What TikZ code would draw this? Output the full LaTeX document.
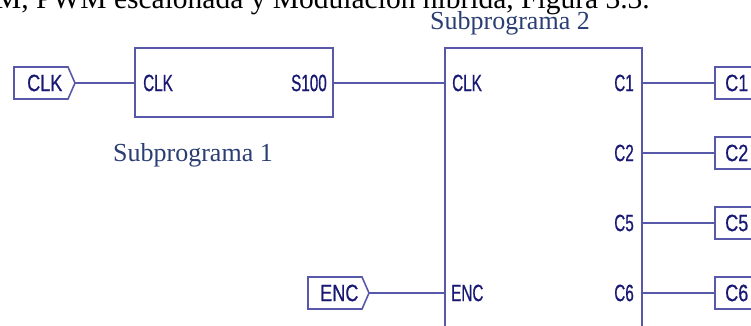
\documentclass[tikz,border=0pt]{standalone}
\usepackage{fontspec}
\setmainfont{Liberation Serif}
\newfontfamily\pinfont[FakeStretch=0.65,FakeBold=0.6]{Liberation Sans}
\newfontfamily\portfont[FakeStretch=0.77,FakeBold=0.6]{Liberation Sans}
\definecolor{wirec}{RGB}{88,88,170}
\definecolor{pinc}{RGB}{25,25,115}
\definecolor{capc}{RGB}{42,62,115}
\begin{document}
\begin{tikzpicture}[x=1pt,y=-1pt,
  wire/.style={draw=wirec, line width=1.8pt},
  block/.style={draw=wirec, line width=1.8pt, rectangle, inner sep=0pt, outer sep=0pt},
  portshape/.style={draw=wirec, line width=1.6pt, line join=miter},
  pin/.style={text=pinc, font=\pinfont\fontsize{23.5}{23.5}\selectfont, inner sep=0pt},
  portlbl/.style={text=pinc, font=\portfont\fontsize{23.5}{23.5}\selectfont, inner sep=0pt},
  caption/.style={text=capc, font=\fontsize{26}{26}\selectfont, inner sep=0pt},
]
\useasboundingbox (0,0) rectangle (751,326);
\clip (0,0) rectangle (751,326);

% cut-off body text line
\node[anchor=base east, font=\fontsize{29.5}{29.5}\selectfont, inner sep=0pt] (topline) at (650,8.5)
  {M, PWM escalonada y Modulación híbrida, Figura 3.3.};

% blocks
\node[block, minimum width=198pt, minimum height=69pt] (b1) at (234,82.5) {};
\node[block, minimum width=197pt, minimum height=352pt] (b2) at (543.5,224) {};

% captions
\node[caption, anchor=base] (cap1) at (193,161) {Subprograma 1};
\node[caption, anchor=base] (cap2) at (510,29.5) {Subprograma 2};

% pin labels block 1
\node[pin, anchor=west] (p1clk) at (143,83) {CLK};
\node[pin, anchor=east] (p1s) at (327,83) {S100};

% pin labels block 2
\node[pin, anchor=west] (p2clk) at (452,83) {CLK};
\node[pin, anchor=west] (p2enc) at (451,293) {ENC};
\node[pin, anchor=east] (p2c1) at (634,83) {C1};
\node[pin, anchor=east] (p2c2) at (634,153) {C2};
\node[pin, anchor=east] (p2c5) at (634,223) {C5};
\node[pin, anchor=east] (p2c6) at (634,293) {C6};

% input ports
\draw[portshape] (14,67) -- (68,67) -- (75,83) -- (68,99) -- (14,99) -- cycle;
\coordinate (clkin) at (75,83);
\node[portlbl, anchor=west] (clkt) at (27,83) {CLK};

\draw[portshape] (308,277) -- (362,277) -- (369,293) -- (362,309) -- (308,309) -- cycle;
\coordinate (encin) at (369,293);
\node[portlbl, anchor=west] (enct) at (320,293) {ENC};

% output ports
\foreach \y/\t in {83/C1,153/C2,223/C5,293/C6}{
  \draw[portshape] (715,\y-16) -- (775,\y-16) -- (782,\y) -- (775,\y+16) -- (715,\y+16) -- cycle;
  \coordinate (out\t) at (715,\y);
  \node[portlbl, anchor=west] (lbl\t) at (725,\y) {\t};
}

% block 2 pin coordinates
\coordinate (b2clk) at (b2.west |- clkin);
\coordinate (b2enc) at (b2.west |- encin);

% wires
\draw[wire] (clkin) -- (clkin -| b1.west);
\draw[wire] (b1.east |- clkin) -- (b2clk);
\draw[wire] (encin) -- (b2enc);
\foreach \t in {C1,C2,C5,C6}{
  \draw[wire] (out\t -| b2.east) -- (out\t);
}
\end{tikzpicture}
\end{document}
